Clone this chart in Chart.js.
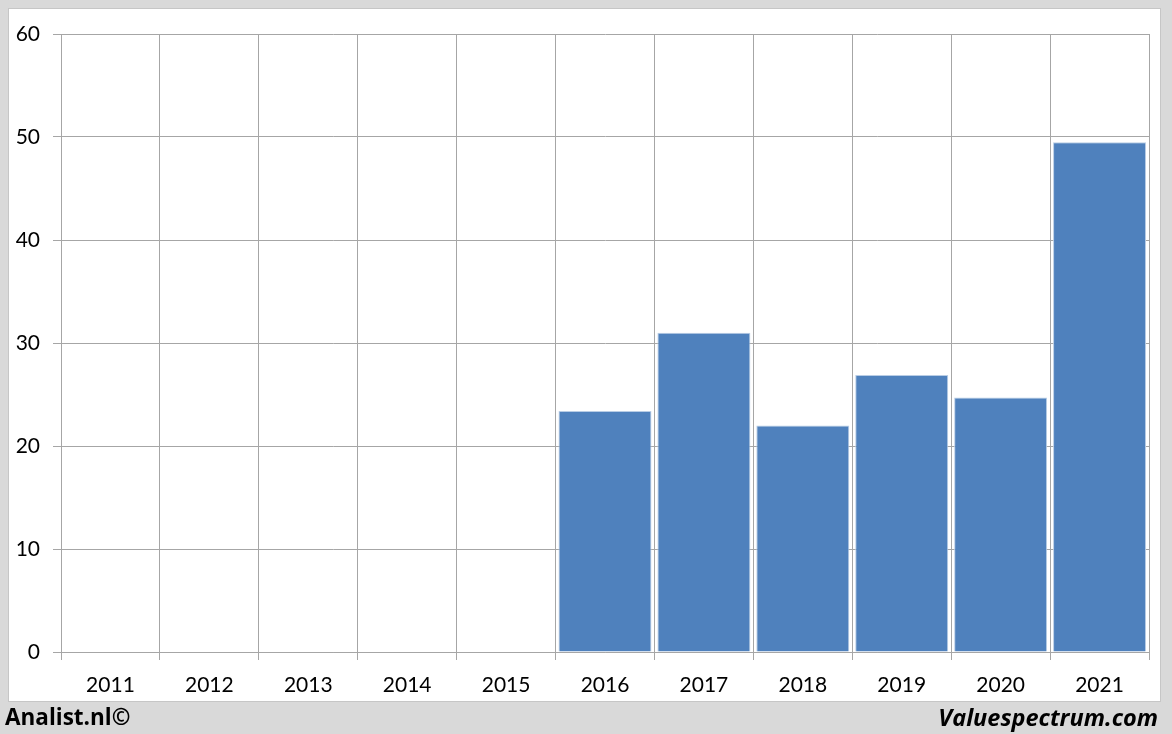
<!DOCTYPE html>
<html>
<head>
<meta charset="utf-8">
<script src="https://cdn.jsdelivr.net/npm/chart.js@4/dist/chart.umd.min.js"></script>
<style>
    html, body { margin: 0; padding: 0; }
    body { width: 1172px; height: 734px; background: #d9d9d9; position: relative; overflow: hidden; font-family: Lato, "Open Sans", sans-serif; }
    #frame { position: absolute; left: 8px; top: 8px; width: 1153px; height: 694px; background: #ffffff; border: 1px solid #c6c6c6; box-sizing: border-box; }
    #chart-wrap { position: absolute; left: 0; top: 0; width: 1172px; height: 734px; }
    .credit { position: absolute; top: 702px; font-family: "Open Sans", sans-serif; font-size: 22.5px; font-weight: bold; color: #000; line-height: 30px; }
    #credit-left { left: 5px; }
    #credit-right { right: 14px; font-style: italic; font-size: 23.5px; }
</style>
</head>
<body>
<div id="frame"></div>
<div id="chart-wrap"><canvas id="barChart" width="1172" height="734"></canvas></div>
<div class="credit" id="credit-left">Analist.nl©</div>
<div class="credit" id="credit-right">Valuespectrum.com</div>
<script>
"use strict";

const years = ["2011", "2012", "2013", "2014", "2015", "2016", "2017", "2018", "2019", "2020", "2021"];
const values = [null, null, null, null, null, 23.4, 31.0, 22.0, 26.9, 24.7, 49.5];
const yTicks = [0, 10, 20, 30, 40, 50, 60];

const gridColor = "#a6a6a6";

function buildChart()
{
    new Chart("barChart", {
        type: "bar",
        data: {
            labels: years,
            datasets: [{
                data: values,
                backgroundColor: "#4f81bd",
                borderColor: "#b9cde5",
                borderWidth: 1,
                barPercentage: 0.94,
                categoryPercentage: 1.0
            }]
        },
        options: {
            responsive: false,
            animation: false,
            layout: {
                padding: {left: 0, top: 34, right: 23, bottom: 32}
            },
            plugins: {
                legend: {display: false},
                tooltip: {enabled: false}
            },
            scales: {
                x: {
                    grid: {
                        color: gridColor,
                        offset: true,
                        tickLength: 8,
                        lineWidth: 1
                    },
                    border: {color: gridColor},
                    ticks: {
                        color: "#000",
                        padding: 13,
                        maxRotation: 0,
                        font: {family: "Lato", size: 21}
                    },
                    afterFit: function(scale) { scale.height = 50; }
                },
                y: {
                    min: 0,
                    max: 60,
                    afterBuildTicks: function(scale) {
                        scale.ticks = yTicks.map(v => ({value: v}));
                    },
                    grid: {
                        color: gridColor,
                        tickLength: 8,
                        lineWidth: 1
                    },
                    border: {color: gridColor},
                    ticks: {
                        color: "#000",
                        padding: 13,
                        font: {family: "Lato", size: 21}
                    },
                    afterFit: function(scale) { scale.width = 61; }
                }
            }
        }
    });
}

buildChart();
</script>
</body>
</html>
